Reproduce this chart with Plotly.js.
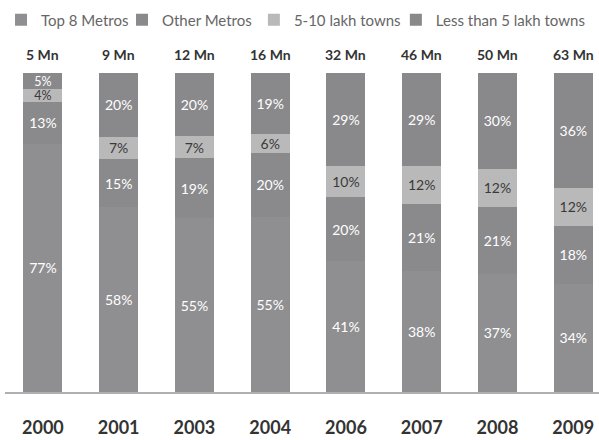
<!DOCTYPE html>
<html>
<head>
<meta charset="utf-8">
<script src="https://cdn.plot.ly/plotly-3.0.1.min.js"></script>
<style>html,body{margin:0;padding:0;background:#fff;}#chart{width:599px;height:440px;}</style>
</head>
<body>
<div id="chart"></div>
<script>
const years = ["2000", "2001", "2003", "2004", "2006", "2007", "2008", "2009"];
const totals = ["5 Mn", "9 Mn", "12 Mn", "16 Mn", "32 Mn", "46 Mn", "50 Mn", "63 Mn"];
const top8Metros = [77, 58, 55, 55, 41, 38, 37, 34];
const otherMetros = [13, 15, 19, 20, 20, 21, 21, 18];
const lakh5to10 = [4, 7, 7, 6, 10, 12, 12, 12];
const lessThan5Lakh = [5, 20, 20, 19, 29, 29, 30, 36];
const seriesNames = ["Top 8 Metros", "Other Metros", "5-10 lakh towns", "Less than 5 lakh towns"];

const FONT = "Lato, 'Open Sans', sans-serif";
const seriesData = [top8Metros, otherMetros, lakh5to10, lessThan5Lakh];
const colors = ["#8f8f91", "#8a8a8c", "#b9b9b9", "#89898b"];
const textColors = ["#ffffff", "#ffffff", "#3a3a3a", "#ffffff"];
const legendIds = ["legend", "legend2", "legend3", "legend4"];
const legendX = [-0.0067, 0.197, 0.419, 0.658];

const traces = seriesData.map((vals, i) => ({
  type: "bar",
  name: seriesNames[i],
  legend: legendIds[i],
  x: years,
  y: vals,
  text: vals.map(v => v + "%"),
  textposition: "inside",
  insidetextanchor: "middle",
  textangle: 0,
  constraintext: "none",
  textfont: {family: FONT, size: vals.map(v => (v < 6 ? 12.5 : 14)), color: textColors[i]},
  marker: {color: colors[i], line: {width: 0}},
  hoverinfo: "skip"
}));

const annotations = years.map((yr, i) => ({
  x: i, y: 1, xref: "x", yref: "paper",
  text: "<b>" + totals[i] + "</b>", showarrow: false,
  yanchor: "bottom", yshift: 8,
  font: {family: FONT, size: 14, color: "#333333"}
}));

const layout = {
  width: 599, height: 440,
  margin: {l: 5, r: 0, t: 73, b: 48},
  paper_bgcolor: "#ffffff", plot_bgcolor: "#ffffff",
  barmode: "stack", barnorm: "percent",
  bargap: 0.485,
  showlegend: true,
  xaxis: {
    type: "category", range: [-0.5, 7.34], fixedrange: true,
    showline: true, linecolor: "#b0b0b0", linewidth: 2,
    ticks: "", showgrid: false, zeroline: false,
    ticklabelstandoff: 18,
    tickfont: {family: FONT, size: 18, color: "#333333", weight: "bold"}
  },
  yaxis: {
    range: [0, 100], visible: false, fixedrange: true,
    showgrid: false, zeroline: false
  },
  annotations: annotations
};
legendIds.forEach((id, i) => {
  layout[id] = {
    orientation: "h", x: legendX[i], xanchor: "left", y: 1.166, yanchor: "middle",
    font: {family: FONT, size: 15, color: "#666666"},
    bgcolor: "rgba(0,0,0,0)"
  };
});

Plotly.newPlot("chart", traces, layout, {displayModeBar: false, staticPlot: true});
</script>
</body>
</html>
